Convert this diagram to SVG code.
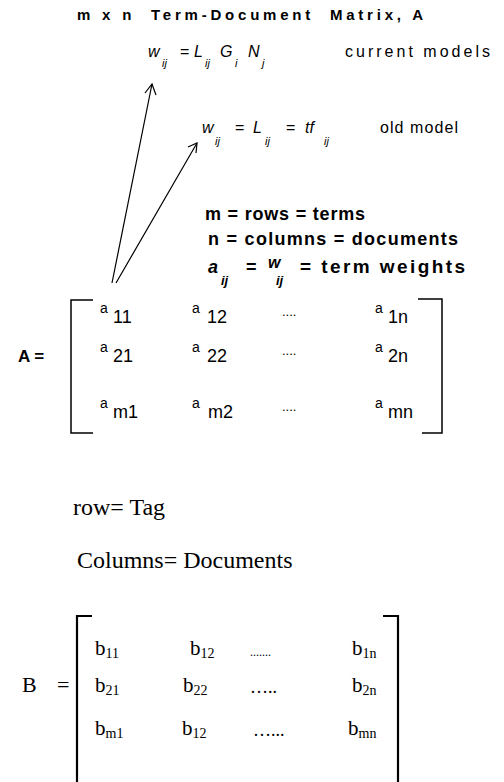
<svg xmlns="http://www.w3.org/2000/svg" width="504" height="782" viewBox="0 0 504 782">
<style>
.s{font-family:"Liberation Sans",Arial,sans-serif;fill:#000}
.b{font-weight:bold}
.i{font-style:italic}
.t{font-family:"Liberation Serif","Times New Roman",serif;fill:#000}
.ln{stroke:#000;stroke-width:1.2;fill:none}
.br{stroke:#000;stroke-width:1.5;fill:none}
.brb{stroke:#000;stroke-width:2.2;fill:none}
</style>
<rect width="504" height="782" fill="#fff"/>
<g id="title"><text class="s b" x="77" y="20" font-size="15" textLength="346" xml:space="preserve">m x n  Term-Document  Matrix, A</text></g>
<g id="current-models" class="s" font-size="16">
<text class="i" x="148" y="57">w</text><text class="i" x="162" y="67" font-size="11">ij</text>
<text x="180" y="57">=</text><text class="i" x="194" y="57">L</text><text class="i" x="205" y="67" font-size="11">ij</text>
<text class="i" x="220" y="57">G</text><text class="i" x="235" y="67" font-size="11">i</text>
<text class="i" x="248" y="57">N</text><text class="i" x="262" y="67" font-size="11">j</text>
<text x="345" y="57" textLength="145">current models</text>
</g>
<g id="old-model" class="s" font-size="16">
<text class="i" x="202" y="133">w</text><text class="i" x="215" y="145" font-size="11">ij</text>
<text x="235" y="133">=</text><text class="i" x="253" y="133">L</text><text class="i" x="265" y="145" font-size="11">ij</text>
<text x="286" y="133">=</text><text class="i" x="305" y="133">tf</text><text class="i" x="324" y="145" font-size="11">ij</text>
<text x="380" y="133" font-size="16" textLength="78">old model</text>
</g>
<g id="definitions" class="s b" font-size="18">
<text x="205" y="220" textLength="160">m = rows = terms</text>
<text x="208" y="245" textLength="250">n = columns = documents</text>
<text class="i" x="208" y="273">a</text><text class="i" x="221" y="285" font-size="13">ij</text>
<text x="246" y="273">=</text><text class="i" x="268" y="268" font-size="16">w</text><text class="i" x="276" y="285" font-size="13">ij</text>
<text x="300" y="273" font-size="19" textLength="165">= term weights</text>
</g>
<g id="connectors">
<path class="ln" d="M112,283 L152,84 M116,283 L197,143"/>
<path class="ln" d="M145,93 L152,84 L156,95 M188,147 L197,143 L196,153"/>
</g>
<g id="matrix-A" class="s">
<text class="b" x="18" y="362" font-size="17">A =</text>
<path class="br" d="M93,300 H71 V433 H93"/>
<path class="br" d="M418,299 H442 V433 H422"/>
<g font-size="18">
<text x="100" y="323"><tspan font-size="14" dy="-10">a</tspan><tspan dy="10" x="113">11</tspan></text>
<text x="192" y="323"><tspan font-size="14" dy="-10">a</tspan><tspan dy="10" x="207">12</tspan></text>
<text x="282" y="316" font-size="13">....</text>
<text x="375" y="323"><tspan font-size="14" dy="-10">a</tspan><tspan dy="10" x="388">1n</tspan></text>
<text x="100" y="362"><tspan font-size="14" dy="-10">a</tspan><tspan dy="10" x="113">21</tspan></text>
<text x="192" y="362"><tspan font-size="14" dy="-10">a</tspan><tspan dy="10" x="207">22</tspan></text>
<text x="282" y="355" font-size="13">....</text>
<text x="375" y="362"><tspan font-size="14" dy="-10">a</tspan><tspan dy="10" x="388">2n</tspan></text>
<text x="100" y="418"><tspan font-size="14" dy="-10">a</tspan><tspan dy="10" x="113">m1</tspan></text>
<text x="192" y="418"><tspan font-size="14" dy="-10">a</tspan><tspan dy="10" x="208">m2</tspan></text>
<text x="282" y="411" font-size="13">....</text>
<text x="375" y="418"><tspan font-size="14" dy="-10">a</tspan><tspan dy="10" x="388">mn</tspan></text>
</g>
</g>
<g id="labels" class="t" font-size="24">
<text x="73" y="515">row= Tag</text>
<text x="77" y="568">Columns= Documents</text>
</g>
<g id="matrix-B" class="t" font-size="21">
<text x="22" y="692" font-size="22">B</text><text x="57" y="692" font-size="22">=</text>
<path class="brb" d="M92,616 H77 V782"/>
<path class="brb" d="M383,616 H398 V782"/>
<text x="95" y="655">b<tspan font-size="14" dy="3">11</tspan></text>
<text x="190" y="655">b<tspan font-size="14" dy="3">12</tspan></text>
<text x="250" y="656" font-size="12">.......</text>
<text x="352" y="655">b<tspan font-size="14" dy="3">1n</tspan></text>
<text x="95" y="692">b<tspan font-size="14" dy="3">21</tspan></text>
<text x="183" y="692">b<tspan font-size="14" dy="3">22</tspan></text>
<text x="250" y="693" font-size="18">…..</text>
<text x="352" y="692">b<tspan font-size="14" dy="3">2n</tspan></text>
<text x="95" y="735">b<tspan font-size="14" dy="3">m1</tspan></text>
<text x="182" y="735">b<tspan font-size="14" dy="3">12</tspan></text>
<text x="253" y="736" font-size="18">…...</text>
<text x="348" y="735">b<tspan font-size="14" dy="3">mn</tspan></text>
</g>
</svg>
